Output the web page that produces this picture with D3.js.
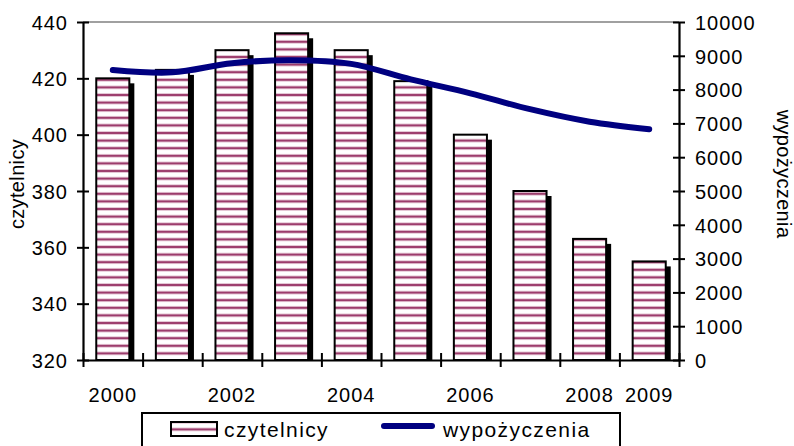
<!DOCTYPE html>
<html>
<head>
<meta charset="utf-8">
<script src="https://cdn.jsdelivr.net/npm/d3@7"></script>
<style>
  html, body { margin: 0; padding: 0; background: #fff; }
  svg { display: block; font-family: "Liberation Sans", Arial, sans-serif; }
  text { font-family: "Liberation Sans", Arial, sans-serif; fill: #000; }
  .tick text { font-size: 20px; letter-spacing: 1px; }
  .title { font-size: 20px; letter-spacing: 0.35px; }
  .legend text { font-size: 21px; letter-spacing: 1.4px; }
</style>
</head>
<body>
<svg id="chart" width="794" height="446"></svg>
<script>
const years = ["2000","2001","2002","2003","2004","2005","2006","2007","2008","2009"];
const czytelnicy = [420, 423, 430, 436, 430, 419, 400, 380, 363, 355];
const wypozyczenia = [8580, 8510, 8780, 8870, 8760, 8300, 7890, 7420, 7050, 6830];
const xTickLabels = ["2000","","2002","","2004","","2006","","2008","2009"];
const leftTicks = [320, 340, 360, 380, 400, 420, 440];
const rightTicks = [0, 1000, 2000, 3000, 4000, 5000, 6000, 7000, 8000, 9000, 10000];
const seriesNames = ["czytelnicy", "wypożyczenia"];
const axisTitles = ["czytelnicy", "wypożyczenia"];

const svg = d3.select("#chart");
const plot = { left: 83, right: 679, top: 22, bottom: 360 };

const x = d3.scaleBand().domain(years).range([plot.left, plot.right]).paddingInner(0).paddingOuter(0);
const xIdx = d3.scaleLinear().domain([0, years.length]).range([plot.left, plot.right]);
const yL = d3.scaleLinear().domain([320, 440]).range([plot.bottom, plot.top]);
const yR = d3.scaleLinear().domain([0, 10000]).range([plot.bottom, plot.top]);

// stripe pattern
const defs = svg.append("defs");
const pat = defs.append("pattern").attr("id", "stripes")
  .attr("patternUnits", "userSpaceOnUse").attr("width", 10).attr("height", 7.6);
pat.append("rect").attr("width", 10).attr("height", 7.6).attr("fill", "#fff");
pat.append("rect").attr("y", 2.2).attr("width", 10).attr("height", 3.2).attr("fill", "#dcb3c7");
pat.append("rect").attr("y", 2.8).attr("width", 10).attr("height", 2).attr("fill", "#9c3c6c");

// top plot border (gray)
svg.append("line")
  .attr("x1", plot.left).attr("x2", plot.right)
  .attr("y1", yL(440)).attr("y2", yL(440))
  .attr("stroke", "#808080").attr("stroke-width", 1.5);

const barW = x.bandwidth() * 0.555;
const barOff = (x.bandwidth() - barW) / 2;
const shadow = 5;

// shadows
svg.append("g").selectAll("rect").data(czytelnicy).join("rect")
  .attr("x", (d, i) => x(years[i]) + barOff + shadow)
  .attr("y", d => yL(d) + shadow)
  .attr("width", barW)
  .attr("height", d => yL(320) - yL(d) - shadow)
  .attr("fill", "#000");

// bars
svg.append("g").selectAll("rect").data(czytelnicy).join("rect")
  .attr("x", (d, i) => x(years[i]) + barOff)
  .attr("y", d => yL(d))
  .attr("width", barW)
  .attr("height", d => yL(320) - yL(d))
  .attr("fill", "url(#stripes)")
  .attr("stroke", "#000").attr("stroke-width", 2);

// left axis
const gL = svg.append("g").attr("transform", `translate(${plot.left},0)`)
  .call(d3.axisLeft(yL).tickValues(leftTicks).tickFormat(d3.format("d")).tickSize(6).tickPadding(9).tickSizeOuter(0));
gL.attr("font-size", null).attr("font-family", null);
gL.select(".domain").attr("stroke", "#000").attr("stroke-width", 2.2);
gL.selectAll(".tick line").attr("x1", -6).attr("x2", 6).attr("stroke", "#000").attr("stroke-width", 2);
gL.selectAll(".tick text").attr("dy", "0.36em");

// right axis
const gR = svg.append("g").attr("transform", `translate(${plot.right},0)`)
  .call(d3.axisRight(yR).tickValues(rightTicks).tickFormat(d3.format("d")).tickSize(6).tickPadding(10).tickSizeOuter(0));
gR.attr("font-size", null).attr("font-family", null);
gR.select(".domain").attr("stroke", "#000").attr("stroke-width", 2.2);
gR.selectAll(".tick line").attr("x1", -6).attr("x2", 6).attr("stroke", "#000").attr("stroke-width", 2);
gR.selectAll(".tick text").attr("dy", "0.36em");

// bottom axis: boundary ticks
const gB = svg.append("g").attr("transform", `translate(0,${plot.bottom})`)
  .call(d3.axisBottom(xIdx).tickValues(d3.range(years.length + 1)).tickFormat("").tickSize(6).tickSizeOuter(0));
gB.select(".domain").attr("stroke", "#000").attr("stroke-width", 2.2);
gB.selectAll(".tick line").attr("y1", -7).attr("y2", 7).attr("stroke", "#000").attr("stroke-width", 2);

// bottom axis labels
const gBL = svg.append("g").attr("transform", `translate(0,${plot.bottom})`)
  .call(d3.axisBottom(x).tickFormat((d, i) => xTickLabels[i]).tickSize(0).tickPadding(0));
gBL.attr("font-size", null).attr("font-family", null);
gBL.select(".domain").remove();
gBL.selectAll(".tick text").attr("y", 42).attr("dy", 0);

// line
const line = d3.line()
  .x((d, i) => x(years[i]) + x.bandwidth() / 2)
  .y(d => yR(d))
  .curve(d3.curveCatmullRom.alpha(0));
svg.append("path").datum(wypozyczenia)
  .attr("d", line)
  .attr("fill", "none").attr("stroke", "#000080").attr("stroke-width", 6)
  .attr("stroke-linecap", "round").attr("stroke-linejoin", "round");

// axis titles
svg.append("text").attr("class", "title").attr("transform", "translate(24,184) rotate(-90)")
  .attr("text-anchor", "middle").text(axisTitles[0]);
svg.append("text").attr("class", "title").attr("transform", "translate(777,174) rotate(90)")
  .attr("text-anchor", "middle").text(axisTitles[1]);

// legend
const lg = svg.append("g").attr("class", "legend");
lg.append("rect").attr("x", 142).attr("y", 413).attr("width", 478).attr("height", 45)
  .attr("fill", "#fff").attr("stroke", "#000").attr("stroke-width", 2);
lg.append("rect").attr("x", 171).attr("y", 422).attr("width", 46).attr("height", 14)
  .attr("fill", "url(#stripes)").attr("stroke", "#000").attr("stroke-width", 2);
lg.append("text").attr("x", 224).attr("y", 437).text(seriesNames[0]);
lg.append("line").attr("x1", 384).attr("x2", 432).attr("y1", 426).attr("y2", 426)
  .attr("stroke", "#000080").attr("stroke-width", 6).attr("stroke-linecap", "round");
lg.append("text").attr("x", 443).attr("y", 437).text(seriesNames[1]);
</script>
</body>
</html>
